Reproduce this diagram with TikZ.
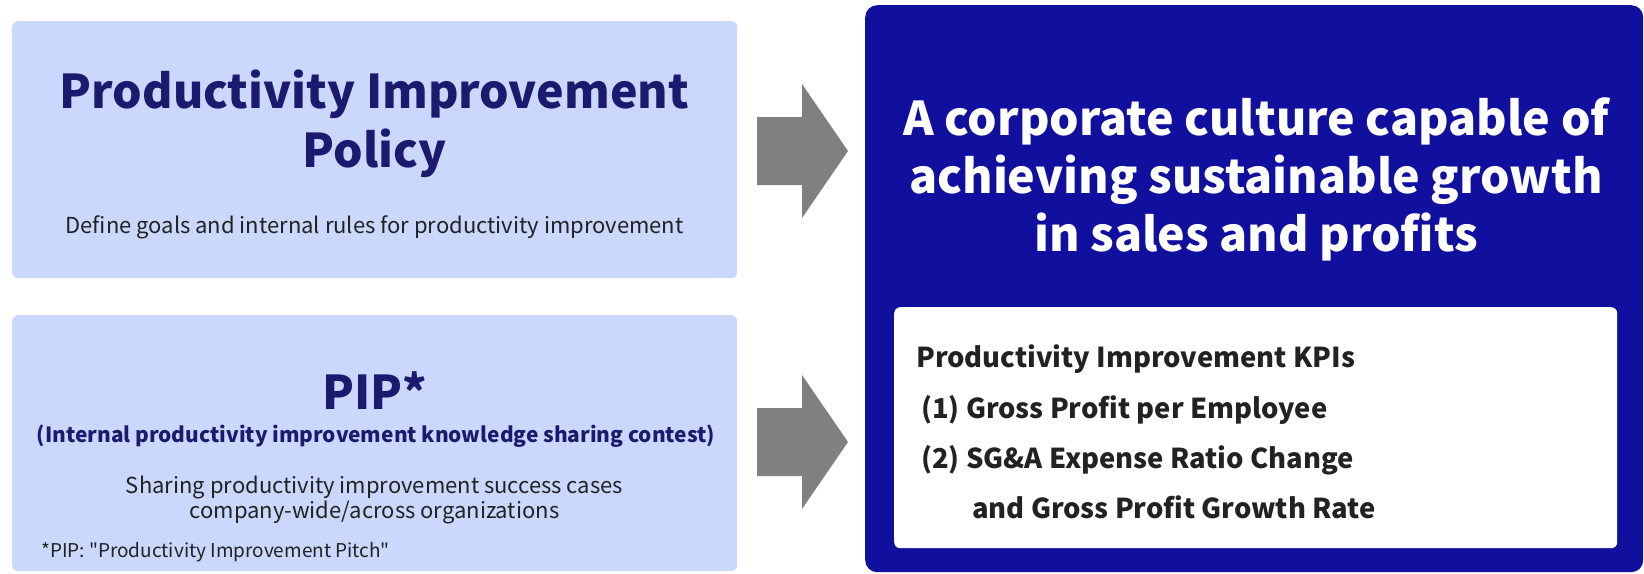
\documentclass[tikz,border=0pt]{standalone}
\usepackage{fontspec}
\setmainfont{Noto Sans CJK JP}
\newfontfamily\notefont{Noto Sans CJK JP}[Ligatures=TeXOff]

\definecolor{panelblue}{HTML}{C9D8FC}
\definecolor{deepblue}{HTML}{110F9E}
\definecolor{navytext}{HTML}{1B1A6E}
\definecolor{bodygray}{HTML}{222222}
\definecolor{arrowgray}{HTML}{808080}

\tikzset{
  panel/.style={fill=panelblue, rounded corners=6pt, inner sep=0pt, anchor=north west},
  headline/.style={font=\fontsize{46.5}{50}\selectfont\bfseries, text=navytext, anchor=base, inner sep=0pt},
  subline/.style={font=\fontsize{20.9}{24}\selectfont\bfseries, text=navytext, anchor=base, inner sep=0pt},
  bodytext/.style={font=\fontsize{22}{25}\selectfont, text=bodygray, anchor=base, inner sep=0pt},
  kpi/.style={font=\fontsize{27.4}{30}\selectfont\bfseries, text=bodygray, anchor=base west, inner sep=0pt},
}

\begin{document}
\begin{tikzpicture}[x=1pt,y=-1pt]
    \useasboundingbox (0,0) rectangle (1644,573);

    % left panels
    \node[panel, minimum width=725pt, minimum height=257pt] (policy) at (12,21) {};
    \node[panel, minimum width=725pt, minimum height=256pt] (pipbox) at (12,315) {};

    % goal panel with the KPI card
    \node[fill=deepblue, rounded corners=12pt, inner sep=0pt, anchor=north west,
          minimum width=778pt, minimum height=567pt] (goal) at (865,5) {};
    \node[fill=white, rounded corners=6pt, inner sep=0pt, anchor=north west,
          minimum width=723pt, minimum height=241pt] (kpibox) at (894,307) {};

    % block arrows
    \foreach \yc in {151,442}
        \fill[arrowgray] (757,\yc-34) -- (802,\yc-34) -- (802,\yc-67) -- (848,\yc)
            -- (802,\yc+67) -- (802,\yc+34) -- (757,\yc+34) -- cycle;

    \node[headline] (polA) at (374.5,108) {Productivity Improvement};
    \node[headline] (polB) at (374.5,167) {Policy};
    \node[bodytext] (polC) at (374.5,233) {Define goals and internal rules for productivity improvement};

    \node[headline] (pip) at (374.5,409) {PIP*};
    \node[subline] (pipsub) at (376,442) {(Internal productivity improvement knowledge sharing contest)};
    \node[bodytext] (shareA) at (374.5,493) {Sharing productivity improvement success cases};
    \node[bodytext] (shareB) at (374.5,518) {company-wide/across organizations};
    \node[bodytext, font=\notefont\fontsize{19}{22}\selectfont, anchor=base west] (note) at (41,557) {*PIP: "Productivity Improvement Pitch"};

    \node[headline, text=white] (goalA) at (1256,135) {A corporate culture capable of};
    \node[headline, text=white] (goalB) at (1256,193) {achieving sustainable growth};
    \node[headline, text=white] (goalC) at (1256,251) {in sales and profits};

    \node[kpi] (kpiA) at (916,367) {Productivity Improvement KPIs};
    \node[kpi] (kpiB) at (921,418) {(1) Gross Profit per Employee};
    \node[kpi] (kpiC) at (921,468) {(2) SG\&A Expense Ratio Change};
    \node[kpi] (kpiD) at (972,518) {and Gross Profit Growth Rate};
\end{tikzpicture}
\end{document}
